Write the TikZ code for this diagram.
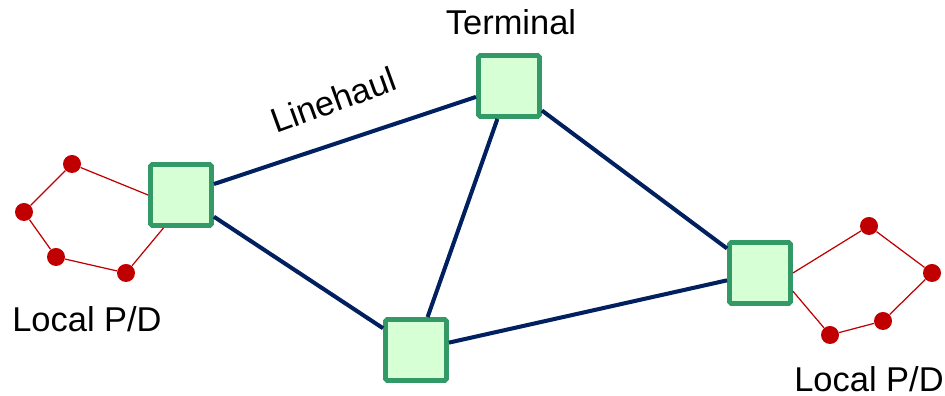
\documentclass[tikz,border=0pt]{standalone}
\usepackage{fontspec}
\setmainfont{Liberation Sans}
\usepackage{tikz}

\definecolor{termgreen}{RGB}{51,153,102}
\definecolor{termfill}{RGB}{214,255,214}
\definecolor{haulblue}{RGB}{0,32,96}
\definecolor{pdred}{RGB}{192,0,0}

\begin{document}
\begin{tikzpicture}[
    terminal/.style={draw=termgreen, fill=termfill, line width=2.8pt,
      rounded corners=1pt, minimum size=1.22cm, inner sep=0pt},
    stop/.style={circle, fill=pdred, minimum size=0.36cm, inner sep=0pt},
    linehaul/.style={haulblue, line width=2.3pt},
    pdroute/.style={pdred, line width=0.7pt},
    lbl/.style={font=\fontsize{19.6}{22}\selectfont, inner sep=0pt}
  ]
  \useasboundingbox (0,0) rectangle (18.9,7.92);

  % terminals
  \node[terminal] (tl) at (3.62,4.02) {};
  \node[terminal] (tt) at (10.18,6.2) {};
  \node[terminal] (tb) at (8.32,0.92) {};
  \node[terminal] (tr) at (15.2,2.46) {};

  % linehaul network
  \draw[linehaul] (tl) -- (tt);
  \draw[linehaul] (tl) -- (tb);
  \draw[linehaul] (tt) -- (tb);
  \draw[linehaul] (tt) -- (tr);
  \draw[linehaul] (tb) -- (tr);

  % local pickup and delivery, left
  \node[stop] (l1) at (1.44,4.64) {};
  \node[stop] (l2) at (0.48,3.68) {};
  \node[stop] (l3) at (1.12,2.78) {};
  \node[stop] (l4) at (2.52,2.46) {};
  \draw[pdroute] (tl.west) -- (l1) -- (l2) -- (l3) -- (l4) -- (tl.242);

  % local pickup and delivery, right
  \node[stop] (r1) at (17.38,3.4) {};
  \node[stop] (r2) at (18.64,2.46) {};
  \node[stop] (r3) at (17.66,1.5) {};
  \node[stop] (r4) at (16.6,1.22) {};
  \draw[pdroute] (tr.east) -- (r1) -- (r2) -- (r3) -- (r4) -- (tr.-29);

  % labels
  \node[lbl, anchor=base] (termlbl) at (10.22,7.22) {Terminal};
  \node[lbl, rotate=20] (haullbl) at (6.66,5.92) {Linehaul};
  \node[lbl, anchor=base] (pdleft) at (1.74,1.28) {Local P/D};
  \node[lbl, anchor=base] (pdright) at (17.38,0.08) {Local P/D};
\end{tikzpicture}
\end{document}
